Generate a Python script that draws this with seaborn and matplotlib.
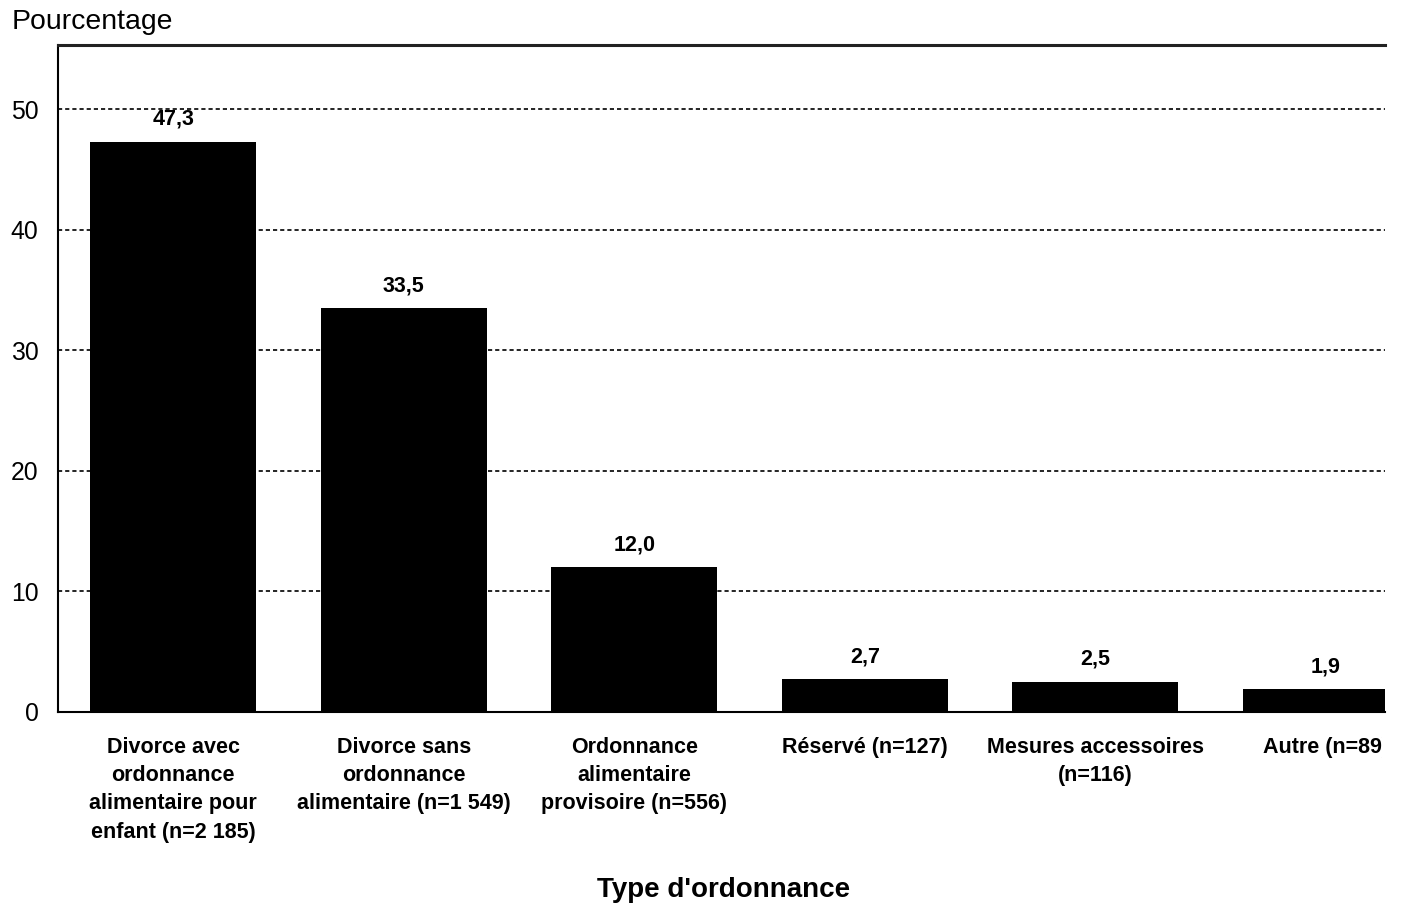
import matplotlib
matplotlib.use("Agg")
import matplotlib.pyplot as plt
from matplotlib.transforms import Bbox, TransformedBbox
import seaborn as sns
import pandas as pd

# Order types and their share of cases
categories = [
    "Divorce avec\nordonnance\nalimentaire pour\nenfant (n=2 185)",
    "Divorce sans\nordonnance\nalimentaire (n=1 549)",
    "Ordonnance\nalimentaire\nprovisoire (n=556)",
    "Réservé (n=127)",
    "Mesures accessoires\n(n=116)",
    "Autre (n=89)",
]
values = [47.3, 33.5, 12.0, 2.7, 2.5, 1.9]
yticks = [0, 10, 20, 30, 40, 50]

sns.set_theme(style="white")
plt.rcParams["font.family"] = ["Liberation Sans", "DejaVu Sans"]
plt.rcParams["text.color"] = "black"
plt.rcParams["xtick.color"] = "black"
plt.rcParams["ytick.color"] = "black"

df = pd.DataFrame({"type": categories, "pct": values})

fig = plt.figure(figsize=(14.02, 9.07), dpi=100)
ax = fig.add_axes([0.0414, 0.215, 0.9465, 0.735])

sns.barplot(data=df, x="type", y="pct", color="black", width=0.72,
            saturation=1, linewidth=0, ax=ax, zorder=3)

ax.set_xlim(-0.5, 5.256)
ax.set_ylim(0, 55.3)
ax.set_yticks(yticks)
ax.set_yticklabels([str(t) for t in yticks], fontsize=17.8, color="black")
ax.tick_params(axis="y", length=0, pad=14)
ax.tick_params(axis="x", length=0, pad=18)

for lbl in ax.get_xticklabels():
    lbl.set_fontsize(15.5)
    lbl.set_fontweight("bold")
    lbl.set_color("black")
    lbl.set_linespacing(1.45)
    lbl.set_verticalalignment("top")

# Dotted horizontal gridlines
for t in yticks[1:]:
    ax.axhline(t, color="black", lw=1.2, linestyle=(0, (2.5, 1.8)), zorder=1)

# Value labels above the bars
for i, v in enumerate(values):
    ax.text(i, v + 1.0, f"{v:.1f}".replace(".", ","), ha="center", va="bottom",
            fontsize=15.5, fontweight="bold", color="black", zorder=4)

ax.set_xlabel("")
ax.set_ylabel("")
fig.text(0.516, 1 - 890 / 907, "Type d'ordonnance", ha="center", va="center",
         fontsize=20, fontweight="bold", color="black")
fig.text(0.008, 1 - 22 / 907, "Pourcentage", ha="left", va="center",
         fontsize=20.4, color="black")

for side in ["left", "bottom", "top"]:
    ax.spines[side].set_visible(True)
    ax.spines[side].set_color("black")
ax.spines["left"].set_linewidth(1.5)
ax.spines["bottom"].set_linewidth(1.5)
ax.spines["top"].set_linewidth(2.2)
ax.spines["top"].set_color("#222222")
ax.spines["right"].set_visible(False)

# Labels are cut off at the plot's right edge
clip = TransformedBbox(Bbox([[0, 0], [1382 / 1402, 1]]), fig.transFigure)
for lbl in ax.get_xticklabels():
    lbl.set_clip_box(clip)
    lbl.set_clip_on(True)

fig.savefig("out.png", dpi=100, facecolor="white")
